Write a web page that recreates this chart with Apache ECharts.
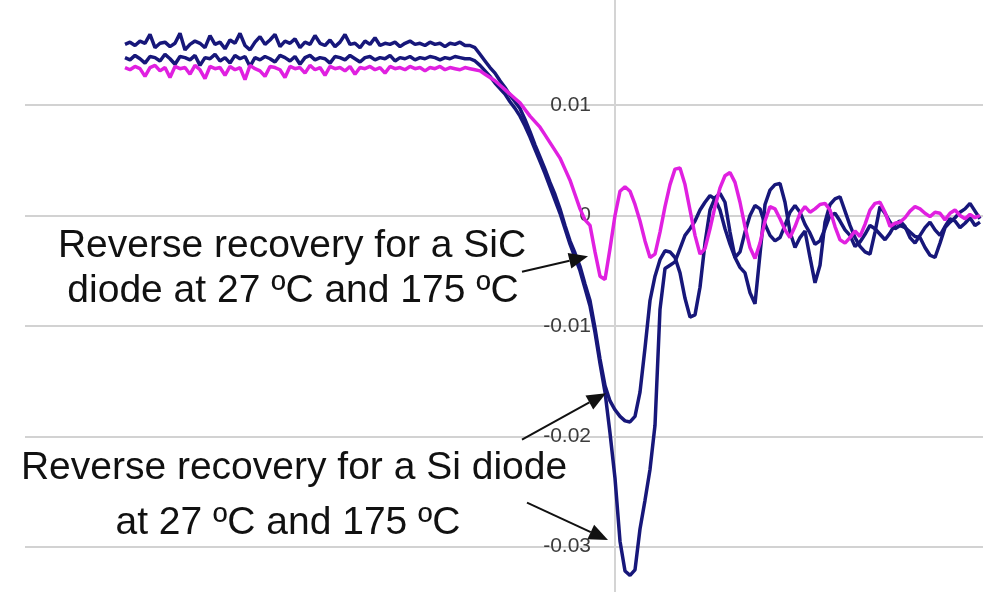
<!DOCTYPE html>
<html>
<head>
<meta charset="utf-8">
<script src="https://cdn.jsdelivr.net/npm/echarts@6/dist/echarts.min.js"></script>
<style>
  html, body { margin: 0; padding: 0; background: #ffffff; }
  #chart { width: 983px; height: 592px; }
</style>
</head>
<body>
<div id="chart"></div>
<script>
// Time base of the sampled traces (ns), one sample per ns
const timeStart = -98;
const timeStep = 1;

// Diode current in mA: steady forward conduction, then the turn-off transient
const siDiode27 = [
  15.5, 15.7, 15.4, 15.8, 15.6, 16.4, 15.2, 15.6, 15.7, 15.3,
  15.6, 16.5, 15.0, 15.5, 15.8, 15.6, 15.2, 16.3, 15.5, 15.7,
  15.1, 15.9, 15.6, 16.5, 15.4, 15.0, 15.7, 16.2, 15.5, 15.9,
  16.4, 15.3, 15.8, 15.6, 16.0, 15.2, 15.7, 15.5, 16.3, 15.6,
  15.4, 15.9, 15.3, 15.7, 16.4, 15.5, 15.6, 15.2, 15.8, 15.5,
  16.1, 15.4, 15.6, 15.5, 15.7, 15.3, 15.6, 15.8, 15.5, 15.6,
  15.4, 15.7, 15.5, 15.6, 15.3, 15.6, 15.5, 15.7, 15.4,
  15.4, 15.2, 14.6, 14.0, 13.4, 12.9, 12.2, 11.6, 10.9, 10.3,
  9.7, 8.7, 7.6, 6.4, 5.3, 4.2, 3.0, 1.9, 0.6, -0.9,
  -2.3, -3.4, -4.6, -6.2, -7.7, -10.2, -13.0, -15.4, -16.8, -17.6,
  -18.2, -18.6, -18.7, -18.2, -16.0, -12.0, -7.7, -5.5, -4.0, -3.2,
  -3.3, -3.8, -5.2, -7.5, -9.2, -9.0, -6.5, -2.5, 0.5, 1.6,
  2.0, 1.2, -1.5, -3.8, -4.7, -5.2, -7.0, -8.0, -3.5, 1.0,
  2.3, 2.8, 2.9, 1.2, -1.5, -2.9, -2.0, -1.4, -3.8, -6.1,
  -4.5, -0.6, 1.0, 1.5, 1.7, 0.4, -0.9, -2.0, -2.8, -3.3,
  -3.5, -1.5, 0.8, 0.2, -0.6, -1.2, -0.9, -1.1, -1.5, -1.9,
  -2.0, -2.9, -3.6, -3.8, -2.5, -1.1, -0.6, -0.2, 0.3, 0.6,
  1.1, 0.4, -0.3
];

const siDiode175 = [
  14.3, 14.1, 14.5, 14.2, 13.8, 14.4, 14.3, 14.0, 14.6, 14.2,
  13.7, 14.4, 14.3, 14.1, 14.5, 13.6, 14.3, 14.2, 14.6, 14.0,
  14.3, 13.8, 14.5, 14.2, 14.4, 13.5, 14.3, 14.1, 14.4, 14.2,
  13.9, 14.5, 14.3, 14.0, 14.4, 13.7, 14.3, 14.5, 14.1, 14.3,
  14.2, 13.8, 14.4, 14.3, 14.1, 14.5, 14.2, 13.9, 14.3, 14.4,
  14.1, 14.3, 14.2, 14.5, 14.0, 14.3, 14.2, 14.4, 14.1, 14.3,
  14.2, 14.4, 14.3, 14.1, 14.3, 14.2, 14.4, 14.3, 14.2,
  14.2, 14.0, 13.6, 13.1, 12.6, 12.0, 11.5, 11.0, 10.3, 9.7,
  9.0, 8.1, 7.1, 6.0, 4.9, 3.8, 2.6, 1.4, 0.2, -1.2,
  -2.6, -3.8, -5.0, -6.6, -8.2, -10.6, -13.4, -16.0, -19.7, -23.8,
  -29.5, -32.2, -32.6, -32.1, -28.4, -25.8, -23.0, -19.0, -8.5, -4.8,
  -4.5, -4.2, -3.0, -1.8, -1.2, -0.5, 0.5, 1.2, 1.8, 1.5,
  0.5, -1.2, -2.6, -3.8, -3.3, -1.5, 0.0, 0.9, 0.6, -0.8,
  -1.8, -2.3, -2.0, -0.9, 0.3, 0.9, 0.3, -0.8, -1.6, -2.6,
  -2.3, -1.2, 0.0, 0.2, -0.5, -1.3, -1.8, -2.8, -2.4, -1.7,
  -0.9, -1.2, -1.7, -2.2, -1.6, -0.8, -0.5, -1.0, -2.0, -2.5,
  -1.8, -1.1, -0.6, -1.3, -1.8, -1.0, -0.3, -0.5, -1.1, -0.7,
  -0.2, -0.9, -0.6
];

const sicDiode = [
  13.4, 13.2, 13.5, 13.3, 12.6, 13.4, 13.6, 13.1, 13.4, 12.5,
  13.5, 13.3, 13.4, 12.8, 13.6, 13.2, 12.4, 13.5, 13.3, 13.4,
  12.7, 13.5, 13.2, 13.4, 12.3, 13.6, 13.3, 13.1, 12.6, 13.5,
  13.4, 13.2, 12.5, 13.5, 13.3, 13.4, 12.9, 13.6, 13.2, 13.4,
  12.7, 13.5, 13.3, 13.4, 13.1, 13.5, 12.8, 13.4, 13.3, 13.5,
  13.2, 13.4, 12.9, 13.5, 13.3, 13.4, 13.2, 13.5, 13.3, 13.4,
  13.1, 13.4, 13.3, 13.5, 13.2, 13.4, 13.3, 13.2, 13.4,
  13.3, 13.2, 13.1, 12.8, 12.5, 12.2, 11.8, 11.4, 11.0, 10.6,
  10.2, 9.6, 9.0, 8.5, 8.0, 7.3, 6.6, 5.9, 5.2, 4.2,
  3.2, 1.9, 0.6, -0.4, -0.9, -3.3, -5.5, -5.8, -3.0, 0.0,
  2.2, 2.6, 2.2, 1.0, -0.5, -2.3, -3.8, -3.5, -1.5, 0.8,
  2.8, 4.2, 4.3, 2.8, 0.5, -1.8, -3.5, -3.0, -1.2, 0.8,
  2.5, 3.6, 3.9, 3.0, 1.2, -1.0, -2.9, -3.9, -2.5, -0.5,
  0.8, 0.6, -0.3, -1.3, -2.0, -1.0, 0.2, 0.8, 0.3, 0.6,
  1.0, 1.1, 0.5, -1.0, -2.2, -2.5, -2.0, -1.4, -1.9, -0.8,
  0.5, 1.1, 1.2, 0.3, -1.0, -0.7, -0.6, -0.2, 0.4, 0.8,
  0.6, 0.2, -0.1, 0.3, 0.2, -0.4, 0.2, 0.5, 0.0, -0.3,
  0.1, -0.2, 0.0
];

// Current axis ticks (A)
const yTicks = { min: -0.04, max: 0.02, interval: 0.01 };
// Time axis extent (ns)
const xRange = { min: -118, max: 73.6 };

// Callouts: text lines and arrows given as [time ns, current mA]
const calloutLines = [
  { text: 'Reverse recovery for a SiC', x: 292, y: 246 },
  { text: 'diode at 27 ºC and 175 ºC', x: 293, y: 291 },
  { text: 'Reverse recovery for a Si diode', x: 294, y: 468 },
  { text: 'at 27 ºC and 175 ºC', x: 288, y: 523 }
];
const calloutArrows = [
  { from: [-18.6, -5.1], to: [-5.4, -3.7] },
  { from: [-18.6, -20.3], to: [-1.8, -16.1] },
  { from: [-17.6, -26.0], to: [-1.4, -29.4] }
];

function toPoints(values) {
  return values.map((v, i) => [timeStart + i * timeStep, v / 1000]);
}

const chart = echarts.init(document.getElementById('chart'), null, { renderer: 'canvas' });

const NAVY = '#17177a';
const MAGENTA = '#e020e0';
const GRID_LEFT = 25;
const GRID_RIGHT = 0;
const GRID_TOP = -5.3;
const GRID_BOTTOM = -65.1;
// horizontal position of t = 0 inside the plot, where the current axis sits
const plotWidth = 983 - GRID_LEFT - GRID_RIGHT;
const axisShift = plotWidth * (0 - xRange.min) / (xRange.max - xRange.min);

chart.setOption({
  animation: false,
  backgroundColor: '#ffffff',
  grid: {
    left: GRID_LEFT, right: GRID_RIGHT, top: GRID_TOP, bottom: GRID_BOTTOM,
    containLabel: false, outerBoundsMode: 'none'
  },
  xAxis: {
    type: 'value',
    min: xRange.min,
    max: xRange.max,
    axisLine: { show: false },
    axisTick: { show: false },
    axisLabel: { show: false },
    splitLine: { show: false }
  },
  yAxis: {
    type: 'value',
    position: 'left',
    offset: -axisShift,
    min: yTicks.min,
    max: yTicks.max,
    interval: yTicks.interval,
    axisLine: { show: true, onZero: false, lineStyle: { color: '#d4d4d4', width: 2 } },
    axisTick: { show: false },
    axisLabel: {
      show: true,
      margin: 24,
      fontSize: 21,
      color: '#3c3c3c',
      fontFamily: 'Liberation Sans, Arial, sans-serif',
      showMaxLabel: false,
      showMinLabel: false,
      formatter: v => String(Math.round(v * 100) / 100)
    },
    splitLine: { show: true, lineStyle: { color: '#d2d2d2', width: 2 } }
  },
  series: [
    {
      name: 'Si 27 ºC', type: 'line', showSymbol: false, z: 2,
      lineStyle: { color: NAVY, width: 3.5 }, data: toPoints(siDiode27)
    },
    {
      name: 'Si 175 ºC', type: 'line', showSymbol: false, z: 2,
      lineStyle: { color: NAVY, width: 3.5 }, data: toPoints(siDiode175)
    },
    {
      name: 'SiC 27 ºC / 175 ºC', type: 'line', showSymbol: false, z: 3,
      lineStyle: { color: MAGENTA, width: 3.5 }, data: toPoints(sicDiode)
    }
  ]
});

// Callout text and arrows drawn as graphic elements on top of the plot
const graphics = [];
calloutLines.forEach(l => {
  graphics.push({
    type: 'text', x: l.x, y: l.y, z: 10,
    style: {
      text: l.text, fill: '#111111',
      font: '39px "Liberation Sans", Arial, sans-serif',
      textAlign: 'center', textVerticalAlign: 'middle'
    }
  });
});
calloutArrows.forEach(a => {
  const p0 = chart.convertToPixel({ gridIndex: 0 }, [a.from[0], a.from[1] / 1000]);
  const p1 = chart.convertToPixel({ gridIndex: 0 }, [a.to[0], a.to[1] / 1000]);
  const dx = p1[0] - p0[0], dy = p1[1] - p0[1];
  const len = Math.hypot(dx, dy);
  const ux = dx / len, uy = dy / len;
  const head = 19, half = 8;
  const bx = p1[0] - ux * head, by = p1[1] - uy * head;
  graphics.push({
    type: 'line', z: 10,
    shape: { x1: p0[0], y1: p0[1], x2: bx, y2: by },
    style: { stroke: '#111111', lineWidth: 2 }
  });
  graphics.push({
    type: 'polygon', z: 10,
    shape: { points: [[p1[0], p1[1]], [bx - uy * half, by + ux * half], [bx + uy * half, by - ux * half]] },
    style: { fill: '#111111' }
  });
});
chart.setOption({ graphic: graphics });
</script>
</body>
</html>
